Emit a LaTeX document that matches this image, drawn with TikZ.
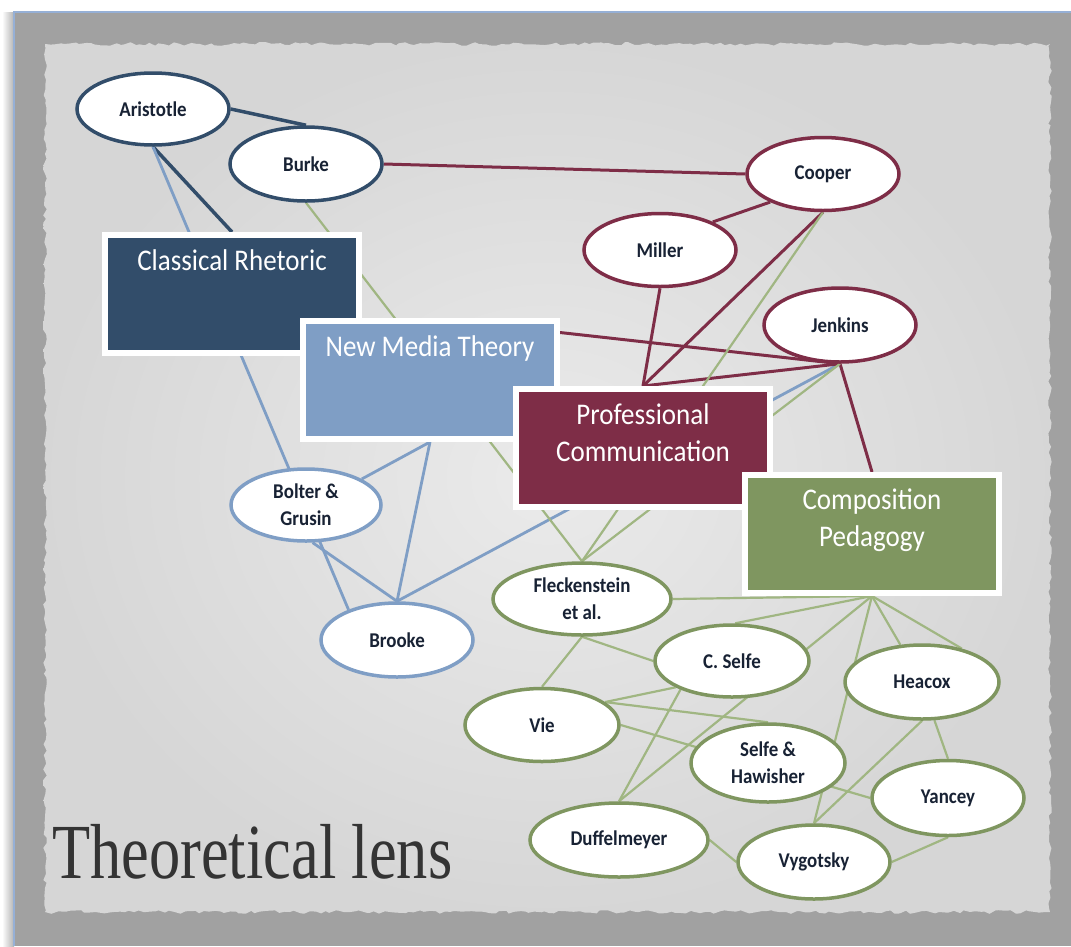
\documentclass[tikz,border=0pt]{standalone}
\usepackage{fontspec}
\setmainfont{Carlito}[FakeStretch=0.9]
\newfontfamily\lensfont{Liberation Serif}[FakeStretch=0.8]
\usetikzlibrary{shapes.geometric,shadows,decorations.pathmorphing}
\definecolor{crcol}{RGB}{50,77,106}
\definecolor{nmtcol}{RGB}{127,158,197}
\definecolor{pccol}{RGB}{126,45,71}
\definecolor{cpcol}{RGB}{127,150,96}
\definecolor{cpline}{RGB}{160,182,130}
\definecolor{inkcol}{RGB}{24,34,52}
\definecolor{titlecol}{RGB}{52,52,52}
\definecolor{framecol}{RGB}{150,176,214}
\pgfdeclarelayer{paper}
\pgfdeclarelayer{ties}
\pgfsetlayers{paper,ties,main}
\tikzset{
  thinker/.style={ellipse,draw=#1,line width=3.5pt,fill=white,text=inkcol,
    font=\fontsize{21}{27}\selectfont\bfseries,align=center,inner sep=0pt,
    minimum width=152pt,minimum height=74pt},
  lens/.style={rectangle,fill=#1,draw=white,line width=6pt,
    minimum width=254pt,minimum height=118pt,
    drop shadow={shadow xshift=2pt,shadow yshift=-3pt,opacity=0.3}},
  lenstext/.style={anchor=north,yshift=-17pt,inner sep=0pt,text=white,
    font=\fontsize{30}{37}\selectfont,align=center},
  tie/.style={draw=#1,line width=2.2pt}
}
\begin{document}
\begin{tikzpicture}[x=1pt,y=-1pt]
\useasboundingbox (0,0) rectangle (1071,946);
\begin{pgfonlayer}{paper}
\fill[white] (0,0) rectangle (1071,946);
\shade[left color=white,right color=black!30] (2,12) rectangle (14,946);
\fill[black!37] (14,12) rectangle (1071,946);
\draw[framecol,line width=1.5pt] (1071,12) -- (14,12) -- (14,946);
\pgfmathsetseed{7}
\shade[inner color=black!8,outer color=black!16,decorate,
  decoration={random steps,segment length=5pt,amplitude=1.8pt}]
  (45,44) rectangle (1050,912);
\end{pgfonlayer}

\node (cr) at (232,294) [lens=crcol,label={[lenstext]north:Classical Rhetoric}] {};
\node (nmt) at (430,380) [lens=nmtcol,label={[lenstext]north:New Media Theory}] {};
\node (pc) at (643,448) [lens=pccol,label={[lenstext]north:Professional\\Communication}] {};
\node (cp) at (872,534) [lens=cpcol,label={[lenstext]north:Composition\\Pedagogy}] {};

\node (aristotle) at (153,109) [thinker=crcol,minimum height=72pt] {Aristotle};
\node (burke) at (306,164) [thinker=crcol] {Burke};
\node (cooper) at (823,174) [thinker=pccol,minimum height=73pt] {Cooper};
\node (miller) at (660,250) [thinker=pccol,minimum height=73pt] {Miller};
\node (jenkins) at (840,325) [thinker=pccol] {Jenkins};
\node (bolter) at (306,505) [thinker=nmtcol,minimum width=150pt,minimum height=72pt] {Bolter \&\\Grusin};
\node (brooke) at (397,640) [thinker=nmtcol] {Brooke};
\node (fleck) at (582,599) [thinker=cpcol,minimum width=178pt,minimum height=72pt] {Fleckenstein\\et al.};
\node (cselfe) at (732,661) [thinker=cpcol,minimum width=154pt,minimum height=72pt] {C. Selfe};
\node (heacox) at (922,682) [thinker=cpcol,minimum width=154pt] {Heacox};
\node (vie) at (542,725) [thinker=cpcol,minimum width=154pt,minimum height=73pt] {Vie};
\node (selfeh) at (768,763) [thinker=cpcol,minimum width=154pt,minimum height=78pt] {Selfe \&\\Hawisher};
\node (yancey) at (948,798) [thinker=cpcol,minimum height=75pt] {Yancey};
\node (duff) at (619,840) [thinker=cpcol,minimum width=178pt] {Duffelmeyer};
\node (vygotsky) at (814,862) [thinker=cpcol] {Vygotsky};

\node (title) at (52,878) [anchor=base west,inner sep=0pt,text=titlecol,font=\lensfont\fontsize{78}{84}\selectfont] {Theoretical lens};

\begin{pgfonlayer}{ties}
\draw[tie=crcol,line width=3.5pt] (aristotle.east) -- (burke.north);
\draw[tie=crcol,line width=3.5pt] (aristotle.south) -- (cr.north);
\draw[tie=nmtcol,line width=2.8pt] (aristotle.south) -- (brooke.148);
\draw[tie=nmtcol,line width=2.8pt] (bolter.25) -- (nmt.south);
\draw[tie=nmtcol,line width=2.8pt] (brooke.north) -- (nmt.south);
\draw[tie=nmtcol,line width=2.8pt] (bolter.-80) -- (brooke.north);
\draw[tie=nmtcol,line width=2.8pt] (brooke.north) -- (jenkins.south);
\draw[tie=pccol,line width=3pt] (burke.east) -- (cooper.west);
\draw[tie=pccol,line width=3pt] (miller.28) -- (cooper.208);
\draw[tie=pccol,line width=3pt] (miller.south) -- (pc.north);
\draw[tie=pccol,line width=3pt] (cooper.south) -- (pc.north);
\draw[tie=pccol,line width=3pt] (jenkins.south) -- (pc.north);
\draw[tie=pccol,line width=3pt,shorten >=40pt] (jenkins.south) -- (nmt.north);
\draw[tie=pccol,line width=3pt] (jenkins.south) -- (cp.north);
\draw[tie=cpline] (burke.south) -- (fleck.north);
\draw[tie=cpline] (cooper.south) -- (fleck.north);
\draw[tie=cpline] (jenkins.south) -- (fleck.north);
\draw[tie=cpline] (fleck.east) -- (cp.south);
\draw[tie=cpline] (cp.south) -- (cselfe.85);
\draw[tie=cpline] (cp.south) -- (duff.north);
\draw[tie=cpline] (cp.south) -- (vygotsky.north);
\draw[tie=cpline] (cp.south) -- (heacox);
\draw[tie=cpline] (cp.south) -- (heacox.40);
\draw[tie=cpline] (fleck.south) -- (vie.north);
\draw[tie=cpline] (fleck.south) -- (cselfe.west);
\draw[tie=cpline] (vie.20) -- (cselfe.205);
\draw[tie=cpline] (vie.20) -- (selfeh.north);
\draw[tie=cpline] (vie.east) -- (yancey.west);
\draw[tie=cpline] (cselfe.209) -- (duff.north);
\draw[tie=cpline] (heacox.south) -- (vygotsky.north);
\draw[tie=cpline] (heacox.-72) -- (yancey.north);
\draw[tie=cpline] (vygotsky.east) -- (yancey.south);
\draw[tie=cpline] (duff.east) -- (vygotsky.west);
\end{pgfonlayer}
\end{tikzpicture}
\end{document}
